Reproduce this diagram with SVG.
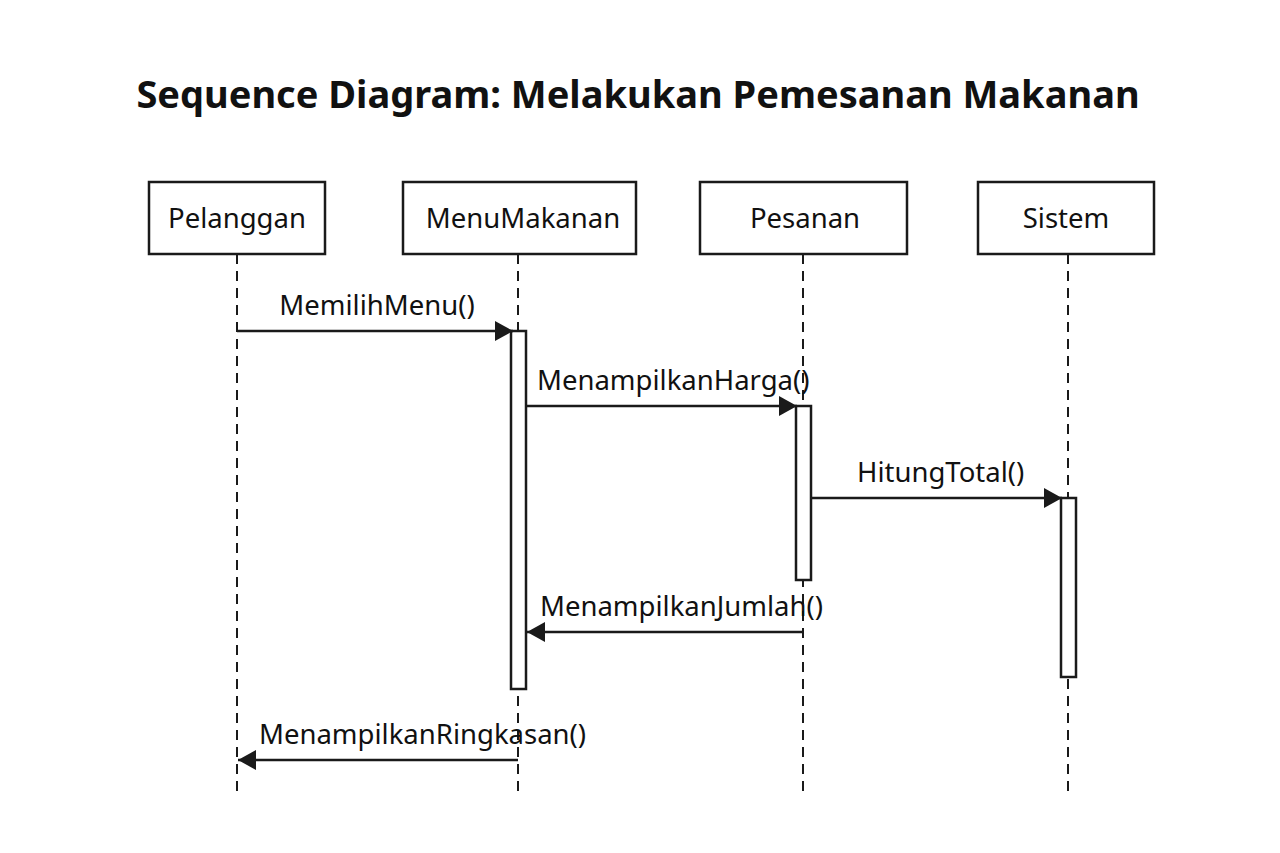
<svg xmlns="http://www.w3.org/2000/svg" width="1280" height="853" viewBox="0 0 1280 853">
<style>
.box{fill:#fff;stroke:#1a1a1a;stroke-width:2.5}
.act{fill:#fff;stroke:#1a1a1a;stroke-width:2.5}
.life{stroke:#1a1a1a;stroke-width:2;stroke-dasharray:10,7;fill:none}
.msg{stroke:#1a1a1a;stroke-width:2.5;fill:none}
.lbl{font-family:"Noto Sans","Open Sans",sans-serif;font-size:27.5px;fill:#111}
.name{font-family:"Noto Sans","Open Sans",sans-serif;font-size:27.5px;fill:#111;text-anchor:middle}
.title{font-family:"Noto Sans","Open Sans",sans-serif;font-size:38px;font-weight:bold;fill:#111;text-anchor:middle}
</style>
<defs>
<marker id="arr" markerWidth="18" markerHeight="20" refX="18" refY="10" orient="auto" markerUnits="userSpaceOnUse">
<path d="M0,0 L18,10 L0,20 Z" fill="#1a1a1a"/>
</marker>
</defs>
<rect width="1280" height="853" fill="#fff"/>
<text class="title" x="638" y="108">Sequence Diagram: Melakukan Pemesanan Makanan</text>
<g id="lifelines">
<line class="life" x1="237" y1="254" x2="237" y2="795"/>
<line class="life" x1="518" y1="254" x2="518" y2="795"/>
<line class="life" x1="803" y1="254" x2="803" y2="795"/>
<line class="life" x1="1068" y1="254" x2="1068" y2="795"/>
</g>
<g id="Pelanggan"><rect class="box" x="149" y="182" width="176" height="72"/><text class="name" x="237" y="228">Pelanggan</text></g>
<g id="MenuMakanan"><rect class="box" x="403" y="182" width="233" height="72"/><text class="name" x="523" y="228">MenuMakanan</text></g>
<g id="Pesanan"><rect class="box" x="700" y="182" width="207" height="72"/><text class="name" x="805" y="228">Pesanan</text></g>
<g id="Sistem"><rect class="box" x="978" y="182" width="176" height="72"/><text class="name" x="1066" y="228">Sistem</text></g>
<g id="activations">
<rect class="act" x="511" y="331" width="15" height="358"/>
<rect class="act" x="796" y="406" width="15" height="174"/>
<rect class="act" x="1061" y="498" width="15" height="179"/>
</g>
<g id="connectors">
<line class="msg" x1="237" y1="331" x2="513" y2="331" marker-end="url(#arr)"/>
<text class="lbl" x="377" y="315" text-anchor="middle">MemilihMenu()</text>
<line class="msg" x1="526" y1="406" x2="797" y2="406" marker-end="url(#arr)"/>
<text class="lbl" x="537" y="390">MenampilkanHarga()</text>
<line class="msg" x1="811" y1="498" x2="1062" y2="498" marker-end="url(#arr)"/>
<text class="lbl" x="857" y="482">HitungTotal()</text>
<line class="msg" x1="803" y1="632" x2="527" y2="632" marker-end="url(#arr)"/>
<text class="lbl" x="540" y="616">MenampilkanJumlah()</text>
<line class="msg" x1="518" y1="760" x2="238" y2="760" marker-end="url(#arr)"/>
<text class="lbl" x="259" y="744">MenampilkanRingkasan()</text>
</g>
</svg>
